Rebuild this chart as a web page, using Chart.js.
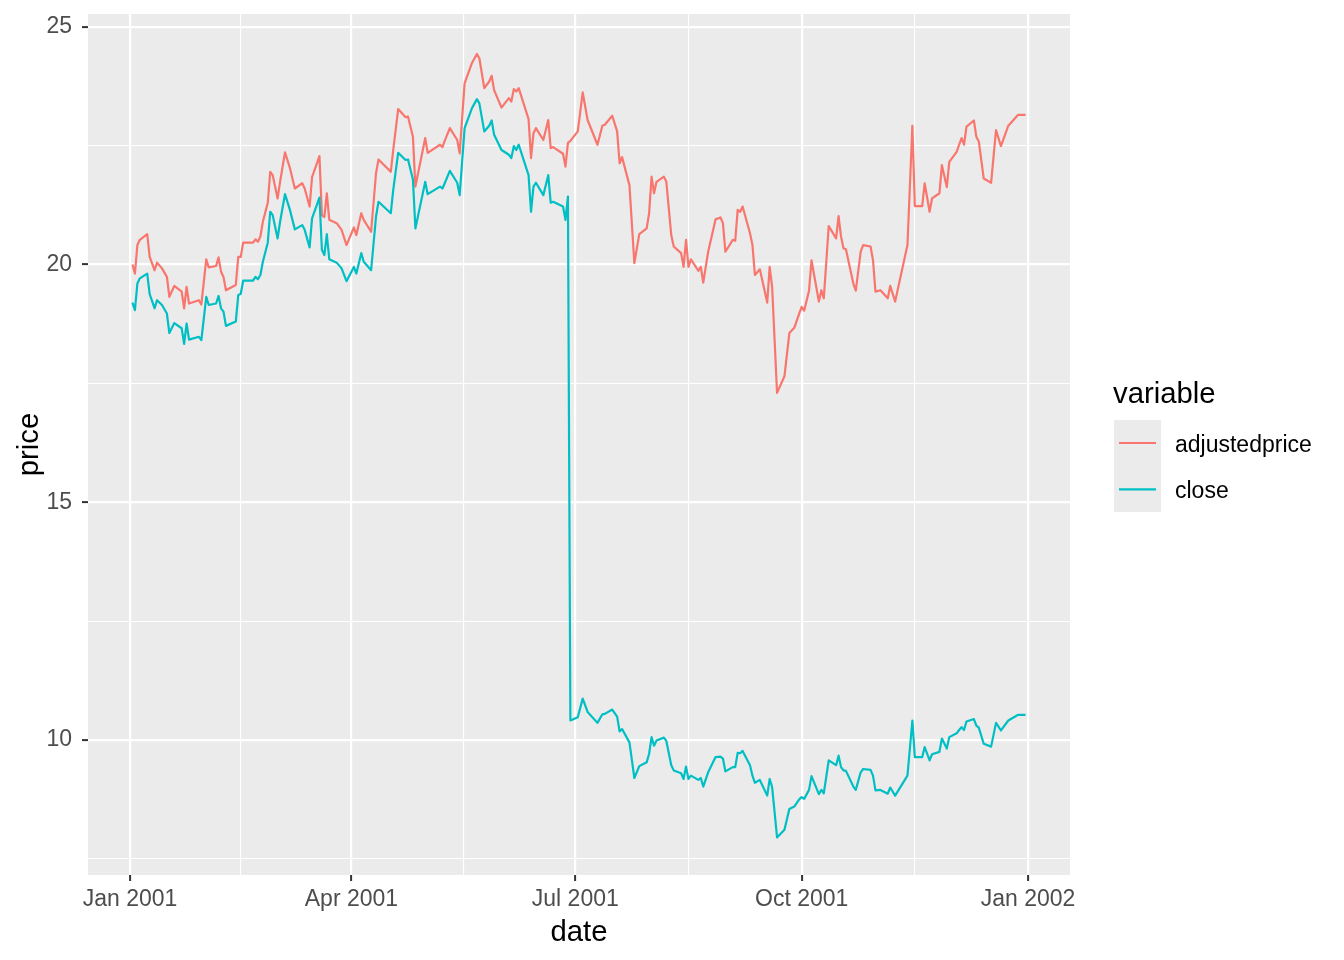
<!DOCTYPE html>
<html>
<head>
<meta charset="utf-8">
<script src="https://cdn.jsdelivr.net/npm/chart.js@4.4.1/dist/chart.umd.min.js"></script>
<style>
    html, body { margin: 0; padding: 0; background: #fff; }
    canvas { display: block; }
</style>
</head>
<body>
<canvas id="priceChart" width="1344" height="960"></canvas>
<script>
const dates = [
    "2001-01-02", "2001-01-03", "2001-01-04", "2001-01-05", "2001-01-08", "2001-01-09", "2001-01-11", "2001-01-12", "2001-01-14", "2001-01-16",
    "2001-01-17", "2001-01-19", "2001-01-22", "2001-01-23", "2001-01-24", "2001-01-25", "2001-01-29", "2001-01-30", "2001-02-01", "2001-02-02",
    "2001-02-05", "2001-02-06", "2001-02-07", "2001-02-08", "2001-02-09", "2001-02-13", "2001-02-14", "2001-02-15", "2001-02-16", "2001-02-20",
    "2001-02-21", "2001-02-22", "2001-02-23", "2001-02-24", "2001-02-26", "2001-02-27", "2001-02-28", "2001-03-02", "2001-03-03", "2001-03-05",
    "2001-03-07", "2001-03-09", "2001-03-12", "2001-03-13", "2001-03-15", "2001-03-16", "2001-03-19", "2001-03-20", "2001-03-21", "2001-03-22",
    "2001-03-23", "2001-03-26", "2001-03-28", "2001-03-30", "2001-04-02", "2001-04-03", "2001-04-05", "2001-04-06", "2001-04-09", "2001-04-11",
    "2001-04-12", "2001-04-17", "2001-04-18", "2001-04-20", "2001-04-23", "2001-04-24", "2001-04-26", "2001-04-27", "2001-05-01", "2001-05-02",
    "2001-05-07", "2001-05-08", "2001-05-09", "2001-05-11", "2001-05-14", "2001-05-15", "2001-05-17", "2001-05-20", "2001-05-22", "2001-05-23",
    "2001-05-25", "2001-05-27", "2001-05-28", "2001-05-29", "2001-06-01", "2001-06-04", "2001-06-05", "2001-06-06", "2001-06-07", "2001-06-08",
    "2001-06-12", "2001-06-13", "2001-06-14", "2001-06-15", "2001-06-18", "2001-06-20", "2001-06-21", "2001-06-22", "2001-06-26", "2001-06-27",
    "2001-06-28", "2001-06-29", "2001-07-02", "2001-07-04", "2001-07-06", "2001-07-10", "2001-07-12", "2001-07-13", "2001-07-16", "2001-07-18",
    "2001-07-19", "2001-07-20", "2001-07-23", "2001-07-25", "2001-07-27", "2001-07-30", "2001-07-31", "2001-08-01", "2001-08-02", "2001-08-03",
    "2001-08-06", "2001-08-07", "2001-08-09", "2001-08-10", "2001-08-13", "2001-08-14", "2001-08-15", "2001-08-16", "2001-08-17", "2001-08-20",
    "2001-08-21", "2001-08-22", "2001-08-24", "2001-08-27", "2001-08-29", "2001-08-30", "2001-08-31", "2001-09-03", "2001-09-04", "2001-09-05",
    "2001-09-06", "2001-09-07", "2001-09-10", "2001-09-11", "2001-09-12", "2001-09-14", "2001-09-17", "2001-09-18", "2001-09-19", "2001-09-21",
    "2001-09-24", "2001-09-26", "2001-09-28", "2001-09-30", "2001-10-01", "2001-10-02", "2001-10-04", "2001-10-05", "2001-10-08", "2001-10-09",
    "2001-10-10", "2001-10-12", "2001-10-15", "2001-10-16", "2001-10-17", "2001-10-18", "2001-10-19", "2001-10-22", "2001-10-23", "2001-10-25",
    "2001-10-26", "2001-10-29", "2001-10-30", "2001-10-31", "2001-11-02", "2001-11-05", "2001-11-06", "2001-11-08", "2001-11-13", "2001-11-15",
    "2001-11-16", "2001-11-19", "2001-11-20", "2001-11-22", "2001-11-23", "2001-11-26", "2001-11-27", "2001-11-29", "2001-11-30", "2001-12-03",
    "2001-12-04", "2001-12-05", "2001-12-06", "2001-12-07", "2001-12-10", "2001-12-11", "2001-12-12", "2001-12-14", "2001-12-17", "2001-12-19",
    "2001-12-21", "2001-12-24", "2001-12-28", "2001-12-31"
];

const adjustedPrice = [
    20.00, 19.81, 20.41, 20.52, 20.64, 20.16, 19.88, 20.04, 19.92, 19.74,
    19.32, 19.55, 19.43, 19.08, 19.53, 19.18, 19.25, 19.16, 20.11, 19.94,
    19.97, 20.15, 19.85, 19.74, 19.46, 19.57, 20.16, 20.16, 20.46, 20.46,
    20.53, 20.48, 20.59, 20.90, 21.30, 21.95, 21.88, 21.39, 21.74, 22.36,
    22.03, 21.60, 21.71, 21.60, 21.22, 21.84, 22.28, 21.04, 21.00, 21.50,
    20.94, 20.87, 20.73, 20.41, 20.78, 20.62, 21.08, 20.94, 20.69, 21.92,
    22.21, 21.95, 22.41, 23.27, 23.10, 23.11, 22.69, 21.64, 22.66, 22.35,
    22.52, 22.47, 22.61, 22.87, 22.62, 22.34, 23.81, 24.24, 24.43, 24.34,
    23.71, 23.85, 23.97, 23.67, 23.30, 23.50, 23.43, 23.69, 23.64, 23.71,
    23.06, 22.24, 22.76, 22.87, 22.62, 23.04, 22.45, 22.47, 22.33, 22.06,
    22.56, 22.60, 22.80, 23.62, 23.04, 22.52, 22.92, 22.94, 23.13, 22.80,
    22.13, 22.26, 21.67, 20.03, 20.64, 20.76, 21.08, 21.85, 21.50, 21.74,
    21.85, 21.74, 20.62, 20.38, 20.24, 19.95, 20.52, 19.95, 20.11, 19.87,
    19.95, 19.62, 20.27, 20.95, 20.99, 20.87, 20.27, 20.52, 20.50, 21.15,
    21.11, 21.22, 20.66, 20.41, 19.78, 19.90, 19.20, 19.95, 19.53, 17.30,
    17.65, 18.56, 18.67, 18.97, 19.11, 19.03, 19.45, 20.09, 19.22, 19.46,
    19.29, 20.81, 20.55, 21.02, 20.59, 20.34, 20.32, 19.60, 19.45, 20.27,
    20.41, 20.38, 20.09, 19.43, 19.46, 19.29, 19.55, 19.22, 20.41, 22.92,
    21.23, 21.23, 21.71, 21.11, 21.39, 21.50, 22.09, 21.63, 22.16, 22.37,
    22.52, 22.66, 22.52, 22.90, 23.03, 22.69, 22.59, 21.81, 21.72, 22.83,
    22.49, 22.92, 23.15, 23.15
];

const closePrice = [
    19.20, 19.04, 19.60, 19.71, 19.81, 19.38, 19.08, 19.25, 19.15, 18.97,
    18.56, 18.77, 18.66, 18.33, 18.76, 18.42, 18.48, 18.41, 19.32, 19.15,
    19.18, 19.34, 19.08, 19.01, 18.71, 18.80, 19.36, 19.38, 19.66, 19.66,
    19.74, 19.69, 19.78, 20.06, 20.46, 21.11, 21.04, 20.55, 20.90, 21.48,
    21.15, 20.74, 20.83, 20.73, 20.36, 20.97, 21.41, 20.31, 20.20, 20.64,
    20.11, 20.04, 19.92, 19.65, 19.95, 19.81, 20.24, 20.06, 19.88, 21.01,
    21.32, 21.08, 21.57, 22.35, 22.20, 22.21, 21.79, 20.76, 21.74, 21.48,
    21.64, 21.60, 21.72, 21.97, 21.72, 21.46, 22.87, 23.29, 23.48, 23.39,
    22.80, 22.92, 23.03, 22.73, 22.41, 22.31, 22.24, 22.49, 22.41, 22.52,
    21.88, 21.11, 21.64, 21.72, 21.46, 21.88, 21.30, 21.32, 21.22, 20.94,
    21.43, 10.41, 10.48, 10.87, 10.59, 10.36, 10.54, 10.55, 10.64, 10.49,
    10.18, 10.23, 9.95, 9.20, 9.45, 9.53, 9.71, 10.06, 9.88, 9.99,
    10.05, 9.98, 9.47, 9.36, 9.30, 9.18, 9.44, 9.18, 9.25, 9.16,
    9.20, 9.02, 9.32, 9.64, 9.65, 9.61, 9.34, 9.43, 9.43, 9.73,
    9.72, 9.77, 9.47, 9.25, 9.10, 9.16, 8.83, 9.18, 9.01, 7.95,
    8.11, 8.55, 8.60, 8.75, 8.80, 8.76, 8.95, 9.24, 8.86, 8.95,
    8.88, 9.57, 9.47, 9.67, 9.43, 9.36, 9.35, 9.02, 8.95, 9.32,
    9.39, 9.37, 9.25, 8.94, 8.95, 8.87, 9.00, 8.83, 9.25, 10.41,
    9.64, 9.64, 9.85, 9.57, 9.70, 9.75, 10.03, 9.82, 10.06, 10.14,
    10.21, 10.27, 10.21, 10.39, 10.44, 10.30, 10.26, 9.92, 9.86, 10.36,
    10.20, 10.41, 10.53, 10.53
];

const seriesNames = ["adjustedprice", "close"];
const seriesColors = ["#F8766D", "#00BFC4"];

const xBreaks = ["2001-01-01", "2001-04-01", "2001-07-01", "2001-10-01", "2002-01-01"];
const xBreakLabels = ["Jan 2001", "Apr 2001", "Jul 2001", "Oct 2001", "Jan 2002"];
const yBreaks = [10, 15, 20, 25];

const FONT = "'Liberation Sans', Arial, Helvetica, sans-serif";

// days since 2001-01-01
function dayOf(s) {
    const [y, m, d] = s.split("-").map(Number);
    return (Date.UTC(y, m - 1, d) - Date.UTC(2001, 0, 1)) / 864e5;
}

function withMinors(majors) {
    const out = [];
    majors.forEach((v, i) => {
        out.push(v);
        if (i < majors.length - 1) out.push((v + majors[i + 1]) / 2);
    });
    return out;
}

const xMajor = xBreaks.map(dayOf);
const xTicks = withMinors(xMajor);
const yTicks = [7.5].concat(withMinors(yBreaks));

function isMajor(list, v) {
    return list.some(m => Math.abs(m - v) < 1e-6);
}

const panelBackground = {
    id: "panelBackground",
    beforeDraw(chart) {
        const { ctx, chartArea: a } = chart;
        ctx.save();
        ctx.fillStyle = "#EBEBEB";
        ctx.fillRect(a.left, a.top, a.right - a.left, a.bottom - a.top);
        ctx.restore();
    }
};

const ggLegend = {
    id: "ggLegend",
    afterDraw(chart) {
        const ctx = chart.ctx;
        ctx.save();
        ctx.fillStyle = "#000";
        ctx.font = `29.3px ${FONT}`;
        ctx.textAlign = "left";
        ctx.textBaseline = "alphabetic";
        ctx.fillText("variable", 1113, 403);

        ctx.fillStyle = "#EBEBEB";
        ctx.fillRect(1114, 420, 47, 92);

        seriesNames.forEach((name, i) => {
            const y = 443 + i * 46.3;
            ctx.strokeStyle = seriesColors[i];
            ctx.lineWidth = 2.2;
            ctx.beginPath();
            ctx.moveTo(1119, y);
            ctx.lineTo(1156, y);
            ctx.stroke();
            ctx.fillStyle = "#000";
            ctx.font = `23px ${FONT}`;
            ctx.fillText(name, 1175, y + 8.7);
        });
        ctx.restore();
    }
};

function makeSeries(values) {
    return dates.map((d, i) => ({ x: dayOf(d), y: values[i] }));
}

new Chart(document.getElementById("priceChart"), {
    type: "line",
    data: {
        datasets: [
            {
                label: seriesNames[0],
                data: makeSeries(adjustedPrice),
                borderColor: seriesColors[0],
                borderWidth: 2.2,
                order: 1
            },
            {
                label: seriesNames[1],
                data: makeSeries(closePrice),
                borderColor: seriesColors[1],
                borderWidth: 2.2,
                order: 0
            }
        ]
    },
    options: {
        responsive: false,
        animation: false,
        parsing: false,
        normalized: true,
        elements: {
            point: { radius: 0 },
            line: { tension: 0, fill: false, borderJoinStyle: "round" }
        },
        layout: { padding: { top: 14, right: 274, left: 0, bottom: 0 } },
        plugins: {
            legend: { display: false },
            tooltip: { enabled: false }
        },
        scales: {
            x: {
                type: "linear",
                min: -17.07,
                max: 382.07,
                afterBuildTicks: scale => {
                    scale.ticks = xTicks.map(v => ({ value: v }));
                },
                afterFit: scale => {
                    scale.height = 85;
                    scale.paddingLeft = 0;
                    scale.paddingRight = 0;
                },
                border: { display: false },
                grid: {
                    color: "#FFFFFF",
                    lineWidth: c => (c.tick && isMajor(xMajor, c.tick.value)) ? 2.2 : 1.1,
                    drawTicks: true,
                    tickLength: 6,
                    tickWidth: 2,
                    tickColor: c => (c.tick && isMajor(xMajor, c.tick.value)) ? "#333333" : "rgba(0,0,0,0)"
                },
                ticks: {
                    autoSkip: false,
                    maxRotation: 0,
                    padding: 5,
                    color: "#4D4D4D",
                    font: { family: FONT, size: 23 },
                    callback: value => {
                        const i = xMajor.findIndex(m => Math.abs(m - value) < 1e-6);
                        return i >= 0 ? xBreakLabels[i] : "";
                    }
                },
                title: {
                    display: true,
                    text: "date",
                    color: "#000",
                    font: { family: FONT, size: 29.3 },
                    padding: { top: 0, bottom: 10 }
                }
            },
            y: {
                type: "linear",
                min: 7.16,
                max: 25.27,
                afterBuildTicks: scale => {
                    scale.ticks = yTicks.map(v => ({ value: v }));
                },
                afterFit: scale => {
                    scale.width = 88;
                    scale.paddingTop = 0;
                    scale.paddingBottom = 0;
                },
                border: { display: false },
                grid: {
                    color: "#FFFFFF",
                    lineWidth: c => (c.tick && isMajor(yBreaks, c.tick.value)) ? 2.2 : 1.1,
                    drawTicks: true,
                    tickLength: 6,
                    tickWidth: 2,
                    tickColor: c => (c.tick && isMajor(yBreaks, c.tick.value)) ? "#333333" : "rgba(0,0,0,0)"
                },
                ticks: {
                    autoSkip: false,
                    padding: 10,
                    color: "#4D4D4D",
                    font: { family: FONT, size: 23 },
                    callback: value => isMajor(yBreaks, value) ? String(value) : ""
                },
                title: {
                    display: true,
                    text: "price",
                    color: "#000",
                    font: { family: FONT, size: 29.3 },
                    padding: { top: 12, bottom: 0 }
                }
            }
        }
    },
    plugins: [panelBackground, ggLegend]
});
</script>
</body>
</html>
